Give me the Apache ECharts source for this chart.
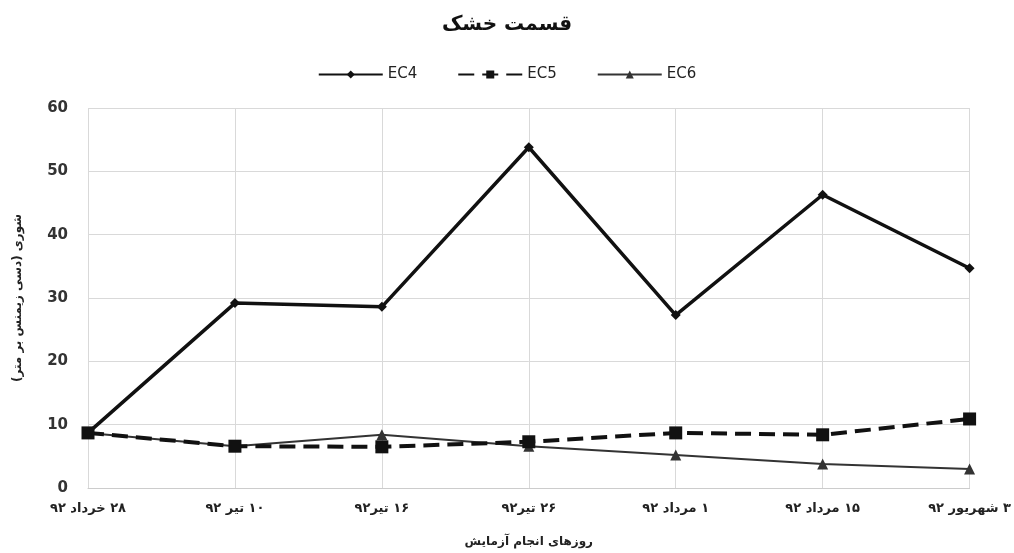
<!DOCTYPE html>
<html><head><meta charset="utf-8">
<script src="https://cdn.jsdelivr.net/npm/echarts@6/dist/echarts.min.js"></script>
<style>html,body{margin:0;padding:0;background:#fff}#c{width:1014px;height:553px}</style>
</head><body><div id="c"></div>
<script>
const categories = ['۲۸ خرداد ۹۲','۱۰ تیر ۹۲','۱۶ تیر۹۲','۲۶ تیر۹۲','۱ مرداد ۹۲','۱۵ مرداد ۹۲','۳ شهریور ۹۲'];
const ec4 = [8.7, 29.2, 28.6, 53.8, 27.3, 46.3, 34.7];
const ec5 = [8.7, 6.6, 6.5, 7.3, 8.7, 8.4, 10.9];
const ec6 = [8.7, 6.6, 8.4, 6.6, 5.2, 3.8, 3.0];
const yTicks = [0, 10, 20, 30, 40, 50, 60];

const rtl = s => '\u202B' + s + '\u202C';
const chart = echarts.init(document.getElementById('c'));
const ff = "'DejaVu Sans', 'Noto Sans', sans-serif";
chart.setOption({
  animation: false,
  title: {text: rtl('قسمت خشک'), left: 'center', top: 10, textStyle: {fontFamily: ff, fontSize: 20, fontWeight: 'bold', color: '#111'}},
  legend: {top: 62, left: 'center', itemWidth: 64, itemHeight: 10, itemGap: 40,
    textStyle: {fontFamily: ff, fontSize: 15, color: '#222'},
    data: ['EC4','EC5','EC6']},
  grid: {left: 88, right: 44, top: 108, bottom: 65},
  xAxis: {type: 'category', data: categories, boundaryGap: false,
    name: rtl('روزهای انجام آزمایش'), nameLocation: 'middle', nameGap: 48,
    nameTextStyle: {fontFamily: ff, fontSize: 12, fontWeight: 'bold', color: '#222'},
    axisLine: {lineStyle: {color: '#ccc'}}, axisTick: {show: false},
    axisLabel: {fontFamily: ff, fontSize: 13, fontWeight: 'bold', color: '#222', margin: 14, formatter: v => rtl(v)},
    splitLine: {show: true, lineStyle: {color: '#d9d9d9'}}},
  yAxis: {type: 'value', min: yTicks[0], max: yTicks[yTicks.length-1], interval: 10,
    name: rtl('شوری (دسی زیمنس بر متر)'), nameLocation: 'middle', nameGap: 64, nameRotate: 90,
    nameTextStyle: {fontFamily: ff, fontSize: 12, fontWeight: 'bold', color: '#222'},
    axisLine: {show: false}, axisTick: {show: false},
    axisLabel: {fontFamily: ff, fontSize: 15, fontWeight: 'bold', color: '#333', margin: 20},
    splitLine: {lineStyle: {color: '#d9d9d9'}}},
  series: [
    {name: 'EC4', type: 'line', data: ec4, symbol: 'diamond', symbolSize: 10,
      lineStyle: {color: '#111', width: 3.5}, itemStyle: {color: '#111'}, z: 4},
    {name: 'EC5', type: 'line', data: ec5, symbol: 'rect', symbolSize: 13,
      lineStyle: {color: '#111', width: 4, type: [16, 8]}, itemStyle: {color: '#111'}, z: 3},
    {name: 'EC6', type: 'line', data: ec6, symbol: 'triangle', symbolSize: 11,
      lineStyle: {color: '#333', width: 2}, itemStyle: {color: '#333'}, z: 2}
  ]
});
</script></body></html>
